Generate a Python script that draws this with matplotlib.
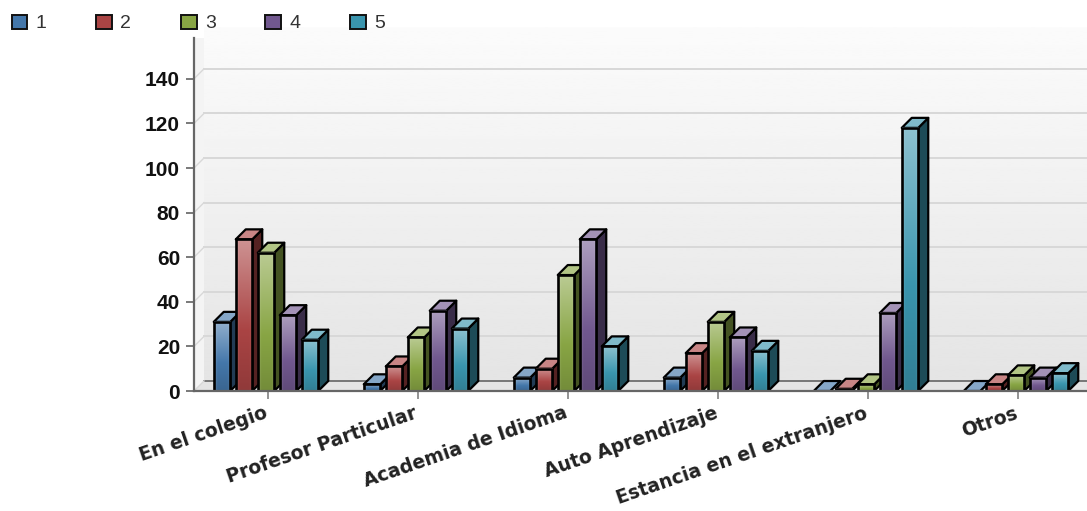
# -*- coding: utf-8 -*-
import matplotlib
matplotlib.use('Agg')
import matplotlib.pyplot as plt
import numpy as np
from matplotlib.colors import to_rgb
from matplotlib.patches import Patch, Polygon
from matplotlib.transforms import ScaledTranslation

# _____________________________________________________________________________
#                           Dados
# _____________________________________________________________________________

categorias = ['En el colegio', 'Profesor Particular', 'Academia de Idioma',
              'Auto Aprendizaje', 'Estancia en el extranjero', 'Otros']
serie_1 = [31, 3, 6, 6, 0, 0]
serie_2 = [68, 11, 10, 17, 1, 3]
serie_3 = [62, 24, 52, 31, 3, 7]
serie_4 = [34, 36, 68, 24, 35, 6]
serie_5 = [23, 28, 20, 18, 118, 8]
nomes = ['1', '2', '3', '4', '5']
yticks = [0, 20, 40, 60, 80, 100, 120, 140]

# _____________________________________________________________________________
#                           Definições gráficas
# _____________________________________________________________________________

W, H = 1087, 511
ESQ, BASE, TOPO = 194, 391, 38    # limites do eixo em pixels
PX_Y = 2.23                       # pixels por unidade em y
PX_X = 150.                       # pixels por categoria
PROF = 10                         # profundidade 3D em pixels
dx, dy = PROF / PX_X, PROF / PX_Y

cores = ['#4477aa', '#aa4444', '#88a544', '#71588f', '#3a95ae']
largura = 16.5 / PX_X
passo = 22 / PX_X
desvio = -2 / PX_X

plt.rcParams['font.family'] = ['Liberation Sans', 'DejaVu Sans']

fig = plt.figure(figsize=(W / 100, H / 100), dpi=100)
ax = fig.add_axes([ESQ / W, 1 - BASE / H, (W - ESQ) / W, (BASE - TOPO) / H])
ax.set_xlim(-(268 - ESQ) / PX_X, (W - 268) / PX_X)
ax.set_ylim(0, (BASE - TOPO) / PX_Y)
xmin, xmax = ax.get_xlim()
ymax = ax.get_ylim()[1]


def clarear(cor, f):
    r = np.array(to_rgb(cor))
    return tuple(r + (1 - r) * f)


def escurecer(cor, f):
    return tuple(np.array(to_rgb(cor)) * f)


def gradiente(cor):
    # frente da barra: claro em cima, escuro embaixo, borda esquerda clara
    n = 64
    t = np.linspace(0, 1, n)[:, None, None]
    topo = np.array(clarear(cor, 0.42))[None, None, :]
    meio = np.array(to_rgb(cor))[None, None, :]
    fundo = np.array(escurecer(cor, 0.85))[None, None, :]
    col = np.where(t < 0.6, topo + (meio - topo) * t / 0.6,
                   meio + (fundo - meio) * (t - 0.6) / 0.4)
    col = np.repeat(col, 16, axis=1)
    lado = np.array([0.22, 0.12, 0.05, 0, 0, 0, 0, 0, 0, 0, 0, 0, 0, 0.03, 0.08, 0.12])
    return col + (1 - col) * lado[None, :, None]


# Parede do fundo com degradê vertical
fundo = np.linspace(0.985, 0.895, 128)[:, None]
ax.imshow(fundo, cmap='gray', vmin=0, vmax=1, aspect='auto', zorder=0,
          extent=[xmin + dx, xmax, dy, ymax + dy], clip_on=False)
# Parede lateral e piso
ax.add_patch(Polygon([(xmin, 0), (xmin + dx, dy), (xmin + dx, ymax + dy * 0.1), (xmin, ymax)],
                     fc='#f4f4f4', ec='none', zorder=0.5))
ax.add_patch(Polygon([(xmin, 0), (xmin + dx, dy), (xmax, dy), (xmax, 0)],
                     fc='#e4e4e4', ec='none', zorder=0.5))

# Grade na parede do fundo
for v in yticks:
    cor = '#777777' if v == 0 else '#d8d8d8'
    ax.plot([xmin + dx, xmax], [v + dy, v + dy], color=cor, lw=1.4, zorder=1, clip_on=False)
    ax.plot([xmin, xmin + dx], [v, v + dy], color='#d8d8d8', lw=1.0, zorder=1)

# _____________________________________________________________________________
#                           PLOTANDO
# _____________________________________________________________________________

series = [serie_1, serie_2, serie_3, serie_4, serie_5]
for i, (valores, cor) in enumerate(zip(series, cores)):
    img = gradiente(cor)
    for j, v in enumerate(valores):
        x0 = j + (i - 2) * passo + desvio - largura / 2
        x1 = x0 + largura
        z = 2 + i * 0.1 + j
        # lateral
        ax.add_patch(Polygon([(x1, 0), (x1 + dx, dy), (x1 + dx, v + dy), (x1, v)],
                             fc=escurecer(cor, 0.5), ec='black', lw=1.6, zorder=z,
                             joinstyle='round'))
        # topo
        ax.add_patch(Polygon([(x0, v), (x0 + dx, v + dy), (x1 + dx, v + dy), (x1, v)],
                             fc=clarear(cor, 0.35), ec='black', lw=1.6, zorder=z,
                             joinstyle='round'))
        # frente
        if v > 0:
            ax.imshow(np.clip(img, 0, 1), aspect='auto', zorder=z + 0.01,
                      extent=[x0, x1, 0, v], interpolation='bilinear')
            ax.add_patch(plt.Rectangle((x0, 0), largura, v, fc='none', ec='black',
                                       lw=1.9, zorder=z + 0.02))

# imshow altera os limites
ax.set_xlim(xmin, xmax)
ax.set_ylim(0, ymax)

# _____________________________________________________________________________
#                           Eixos e legenda
# _____________________________________________________________________________

ax.patch.set_visible(False)
for lado in ['top', 'right']:
    ax.spines[lado].set_visible(False)
for lado in ['left', 'bottom']:
    ax.spines[lado].set_color('#666666')
    ax.spines[lado].set_linewidth(1.6)
    ax.spines[lado].set_zorder(20)

ax.set_yticks(yticks)
ax.tick_params(axis='y', length=6, width=1.1, color='#555555', pad=4,
               labelsize=15, labelcolor='#111111')
for t in ax.get_yticklabels():
    t.set_fontweight('bold')

ax.set_xticks(range(len(categorias)))
ax.set_xticklabels(categorias, rotation=19, ha='right', rotation_mode='anchor',
                   fontsize=13.5, fontweight='bold', color='#222222',
                   family='DejaVu Sans')
ax.tick_params(axis='x', length=6, width=1.1, color='#777777', pad=3)
# puxa os rótulos um pouco para a esquerda
desloc = ScaledTranslation(-3 / 72, 0, fig.dpi_scale_trans)
for t in ax.get_xticklabels():
    t.set_transform(t.get_transform() + desloc)

handles = [Patch(fc=c, ec='#111111', lw=1.4) for c in cores]
fig.legend(handles, nomes, loc='upper left', bbox_to_anchor=(-4 / W, 1 + 1 / H), ncol=5,
           frameon=False, fontsize=14, handlelength=0.82, handleheight=0.75,
           handletextpad=0.42, columnspacing=2.55, labelcolor='#333333', borderpad=0.3)

fig.savefig('out.png', dpi=100)
